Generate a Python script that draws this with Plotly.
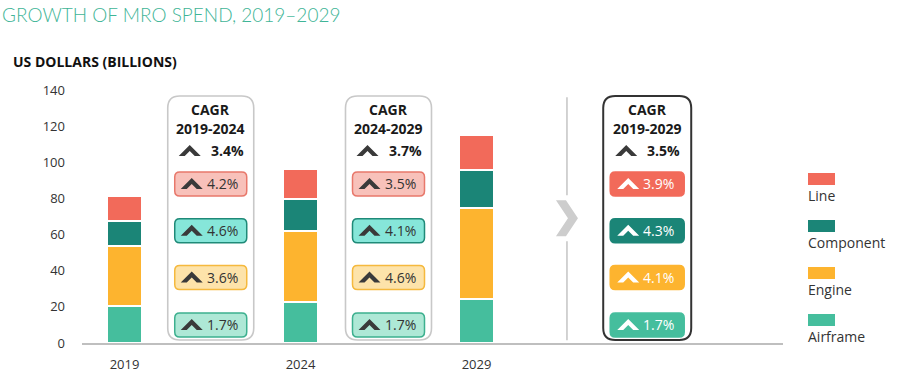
import plotly.graph_objects as go

# ---------------- data ----------------
years = ["2019", "2024", "2029"]
segments = ["Airframe", "Engine", "Component", "Line"]
airframe = [20.5, 22.5, 24.5]
engine = [33.3, 39.7, 50.4]
component = [13.7, 17.3, 20.7]
line_seg = [13.8, 16.8, 19.5]

periods = ["2019-2024", "2024-2029", "2019-2029"]
total_cagr = ["3.4%", "3.7%", "3.5%"]
line_cagr = ["4.2%", "3.5%", "3.9%"]
component_cagr = ["4.6%", "4.1%", "4.3%"]
engine_cagr = ["3.6%", "4.6%", "4.1%"]
airframe_cagr = ["1.7%", "1.7%", "1.7%"]

# ---------------- style ----------------
colors = {"Airframe": "#45BE9D", "Engine": "#FDB42F", "Component": "#1B8577", "Line": "#F26A5A"}
light_fill = {"Airframe": "#AEE8D6", "Engine": "#FDE3AA", "Component": "#86E6D9", "Line": "#F8C1BA"}
light_line = {"Airframe": "#3DB08F", "Engine": "#F5B93E", "Component": "#1F8A78", "Line": "#E8786B"}
FONT = "Open Sans"

W, H = 900, 378
ML, MR, MT, MB = 82, 117, 90, 35

x_pos = [0, 1, 2]
values = {"Airframe": airframe, "Engine": engine, "Component": component, "Line": line_seg}

fig = go.Figure()
for s in segments:
    fig.add_trace(go.Bar(
        x=x_pos, y=values[s], name=s, width=0.2,
        marker=dict(color=colors[s], line=dict(color="white", width=2)),
        showlegend=False, hoverinfo="y+name",
    ))


def rr(x0, y0, x1, y1, r):
    return (f"M {x0+r},{y0} L {x1-r},{y0} Q {x1},{y0} {x1},{y0+r} L {x1},{y1-r} "
            f"Q {x1},{y1} {x1-r},{y1} L {x0+r},{y1} Q {x0},{y1} {x0},{y1-r} "
            f"L {x0},{y0+r} Q {x0},{y0} {x0+r},{y0} Z")


def chevron(cx, cy=0):
    return (f"M {cx-11},{cy-5} L {cx},{cy+6} L {cx+11},{cy-5} L {cx+5},{cy-5} "
            f"L {cx},{cy} L {cx-5},{cy-5} Z")


shapes = []
annotations = []

box_x = [0.49, 1.5, 2.97]
row_y = {"cagr": 129, "period": 118.9, "total": 106.3,
         "Line": 88, "Component": 62.1, "Engine": 36.3, "Airframe": 10.0}
cagr_vals = {"Line": line_cagr, "Component": component_cagr, "Engine": engine_cagr, "Airframe": airframe_cagr}

for i, bx in enumerate(box_x):
    final = (i == 2)
    half = 44 if final else 43
    shapes.append(dict(
        type="path", xref="x", yref="y", xsizemode="pixel", ysizemode="pixel",
        xanchor=bx, yanchor=0, path=rr(-half, 3, half, 247, 12),
        line=dict(color="#333333" if final else "#C8C8C8", width=2 if final else 1.6),
        fillcolor="white", layer="above",
    ))
    annotations.append(dict(x=bx, y=row_y["cagr"], xref="x", yref="y", text="<b>CAGR</b>",
                            showarrow=False, font=dict(family=FONT, size=14, color="#1a1a1a")))
    annotations.append(dict(x=bx, y=row_y["period"], xref="x", yref="y", text=f"<b>{periods[i]}</b>",
                            showarrow=False, font=dict(family=FONT, size=14, color="#1a1a1a")))
    shapes.append(dict(type="path", xref="x", yref="y", xsizemode="pixel", ysizemode="pixel",
                       xanchor=bx, yanchor=row_y["total"], path=chevron(-21),
                       line=dict(width=0), fillcolor="#3A3A3A"))
    annotations.append(dict(x=bx, y=row_y["total"], xref="x", yref="y", xshift=-2, xanchor="left",
                            text=f"<b>{total_cagr[i]}</b>", showarrow=False,
                            font=dict(family=FONT, size=14, color="#1a1a1a")))
    for s in ["Line", "Component", "Engine", "Airframe"]:
        ph = 37 if final else 36
        shapes.append(dict(
            type="path", xref="x", yref="y", xsizemode="pixel", ysizemode="pixel",
            xanchor=bx, yanchor=row_y[s], path=rr(-ph, -12, ph, 12, 5),
            line=dict(color=colors[s] if final else light_line[s], width=1.5),
            fillcolor=colors[s] if final else light_fill[s],
        ))
        shapes.append(dict(
            type="path", xref="x", yref="y", xsizemode="pixel", ysizemode="pixel",
            xanchor=bx, yanchor=row_y[s], path=chevron(-19),
            line=dict(width=0), fillcolor="white" if final else "#3A3A3A",
        ))
        annotations.append(dict(x=bx, y=row_y[s], xref="x", yref="y", xshift=-6, xanchor="left",
                                text=cagr_vals[s][i], showarrow=False,
                                font=dict(family=FONT, size=14, color="white" if final else "#333333")))

# divider with chevron
div_x = 2.514
shapes.append(dict(type="line", xref="x", yref="y", x0=div_x, x1=div_x, y0=1.5, y1=136,
                   line=dict(color="#C4C4C4", width=1.5), layer="below"))
shapes.append(dict(type="path", xref="x", yref="y", xsizemode="pixel", ysizemode="pixel",
                   xanchor=div_x, yanchor=69, path="M -14,-23 L 14,-23 L 14,23 L -14,23 Z",
                   line=dict(width=0), fillcolor="white", layer="below"))
shapes.append(dict(type="path", xref="x", yref="y", xsizemode="pixel", ysizemode="pixel",
                   xanchor=div_x, yanchor=69, path="M -11,18 L -1,18 L 11,0 L -1,-18 L -11,-18 L 1,0 Z",
                   line=dict(width=0), fillcolor="#CDCDCD"))

# custom legend (swatch above label)
def pxx(x):
    return (x - ML) / (W - ML - MR)


def pyy(y):
    return (H - MB - y) / (H - MT - MB)


leg_top = {"Line": 173, "Component": 220, "Engine": 267, "Airframe": 314}
for s in ["Line", "Component", "Engine", "Airframe"]:
    t = leg_top[s]
    shapes.append(dict(type="rect", xref="paper", yref="paper", x0=pxx(808), x1=pxx(835),
                       y0=pyy(t + 12), y1=pyy(t), line=dict(width=0), fillcolor=colors[s]))
    annotations.append(dict(x=pxx(806), y=pyy(t + 22), xref="paper", yref="paper", xanchor="left",
                            yanchor="middle", text=s, showarrow=False,
                            font=dict(family=FONT, size=14, color="#333333")))

# titles
annotations.append(dict(x=pxx(0), y=pyy(15), xref="paper", yref="paper", xanchor="left", yanchor="middle",
                        text="GROWTH OF MRO SPEND, 2019–2029", showarrow=False,
                        font=dict(family="Lato", size=19, weight=300, color="#3FB597")))
annotations.append(dict(x=pxx(11), y=pyy(62), xref="paper", yref="paper", xanchor="left", yanchor="middle",
                        text="<b>US DOLLARS (BILLIONS)</b>", showarrow=False,
                        font=dict(family=FONT, size=14, color="#111111")))

fig.update_layout(
    width=W, height=H, barmode="stack", bargap=0,
    margin=dict(l=ML, r=MR, t=MT, b=MB, pad=0, autoexpand=False),
    paper_bgcolor="white", plot_bgcolor="white",
    shapes=shapes, annotations=annotations,
    font=dict(family=FONT, size=13, color="#333333"),
    xaxis=dict(range=[-0.2415, 3.7415], tickvals=x_pos, ticktext=years, showgrid=False, zeroline=False,
               showline=True, linecolor="#BFBFBF", linewidth=1.5, ticks="", ticklabelstandoff=9,
               automargin=False,
               tickfont=dict(family=FONT, size=13, color="#333333"), fixedrange=True),
    yaxis=dict(range=[0, 140], tickvals=[0, 20, 40, 60, 80, 100, 120, 140], showgrid=False, zeroline=False,
               showline=False, ticks="", ticklabelstandoff=16, automargin=False,
               tickfont=dict(family=FONT, size=13, color="#333333"), fixedrange=True),
    showlegend=False,
)

fig.write_html("out.html", config={"displayModeBar": False},
               post_script="document.body.style.margin='0';document.body.style.overflow='hidden';")
